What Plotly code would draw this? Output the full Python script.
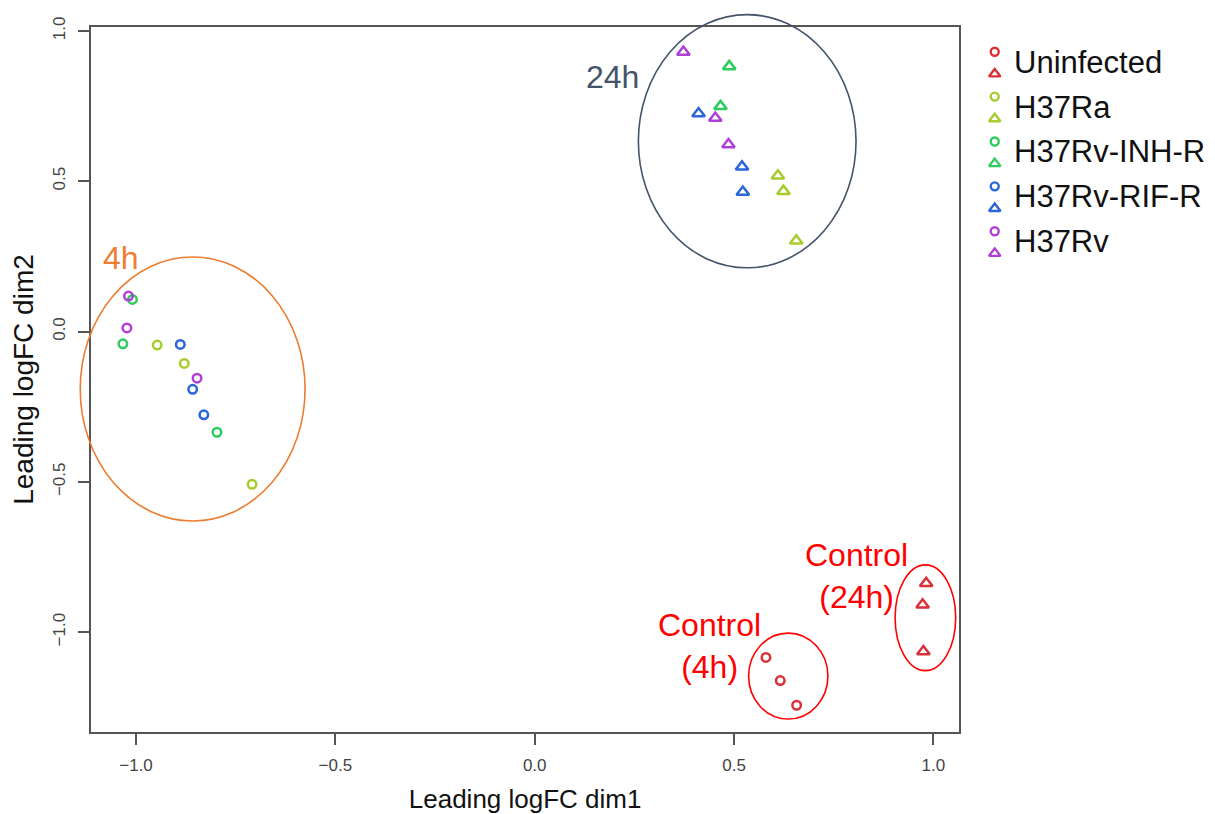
import plotly.graph_objects as go

# ---------------- data ----------------
groups = ["Uninfected", "H37Ra", "H37Rv-INH-R", "H37Rv-RIF-R", "H37Rv"]
colors = ["#D9303A", "#A6CC2E", "#2ECC5C", "#2A66D8", "#B03FD8"]

# 4h samples (circles)
x_4h = {
    "Uninfected": [0.580, 0.616, 0.657],
    "H37Ra": [-0.947, -0.879, -0.709],
    "H37Rv-INH-R": [-1.009, -1.033, -0.797],
    "H37Rv-RIF-R": [-0.889, -0.858, -0.830],
    "H37Rv": [-1.019, -1.023, -0.847],
}
y_4h = {
    "Uninfected": [-1.084, -1.161, -1.243],
    "H37Ra": [-0.045, -0.106, -0.508],
    "H37Rv-INH-R": [0.107, -0.041, -0.335],
    "H37Rv-RIF-R": [-0.043, -0.192, -0.277],
    "H37Rv": [0.118, 0.012, -0.155],
}
# 24h samples (triangles)
x_24h = {
    "Uninfected": [0.982, 0.973, 0.975],
    "H37Ra": [0.610, 0.624, 0.656],
    "H37Rv-INH-R": [0.488, 0.466],
    "H37Rv-RIF-R": [0.411, 0.520, 0.522],
    "H37Rv": [0.373, 0.453, 0.486],
}
y_24h = {
    "Uninfected": [-0.837, -0.909, -1.064],
    "H37Ra": [0.518, 0.467, 0.302],
    "H37Rv-INH-R": [0.882, 0.749],
    "H37Rv-RIF-R": [0.725, 0.548, 0.464],
    "H37Rv": [0.930, 0.710, 0.622],
}

tick_vals = [-1.0, -0.5, 0.0, 0.5, 1.0]
tick_text = ["\u22121.0", "\u22120.5", "0.0", "0.5", "1.0"]

# cluster ellipses: (cx, cy, rx, ry, color) in data units
ellipses = [
    (-0.858, -0.191, 0.282, 0.439, "#ED7D31"),
    (0.533, 0.633, 0.273, 0.421, "#44546A"),
    (0.636, -1.146, 0.0995, 0.143, "#FF0000"),
    (0.980, -0.952, 0.076, 0.176, "#FF0000"),
]
# cluster labels: (x, y, text, color)
labels = [
    (-1.037, 0.244, "4h", "#ED7D31"),
    (0.194, 0.846, "24h", "#44546A"),
    (0.806, -0.812, "Control<br>(24h)", "#FF0000"),
    (0.438, -1.045, "Control<br>(4h)", "#FF0000"),
]

# ---------------- layout geometry ----------------
# the page body adds an 8px margin, so the figure is 8px smaller than the window
W, H = 1207, 806
ML, MR, MT, MB = 83, 0, 19, 81.5
XR = [-1.113, 1.065]
YR = [-1.332, 1.013]
XDOM = [0.0, 0.7725]

FONT = "Liberation Sans Narrow, Liberation Sans, Arial, sans-serif"
FONT2 = "Liberation Sans, Arial, sans-serif"


def to_paper_x(v):
    return XDOM[0] + (v - XR[0]) / (XR[1] - XR[0]) * (XDOM[1] - XDOM[0])


def to_paper_y(v):
    return (v - YR[0]) / (YR[1] - YR[0])


fig = go.Figure()

for g, c in zip(groups, colors):
    fig.add_trace(go.Scatter(
        x=x_4h[g], y=y_4h[g], mode="markers", name=g + " 4h",
        marker=dict(symbol="circle-open", size=8.5, color=c, line=dict(width=2.5, color=c)),
        showlegend=False, xaxis="x", yaxis="y",
    ))
    fig.add_trace(go.Scatter(
        x=x_24h[g], y=y_24h[g], mode="markers", name=g + " 24h",
        marker=dict(symbol="triangle-up-open", size=11, color=c, line=dict(width=2.5, color=c)),
        showlegend=False, xaxis="x", yaxis="y",
    ))

# custom legend (circle over triangle)
rows = list(range(len(groups)))
fig.add_trace(go.Scatter(
    x=[27] * len(groups), y=[r - 0.234 for r in rows], mode="markers",
    marker=dict(symbol="circle-open", size=8, color=colors, line=dict(width=2.4, color=colors)),
    showlegend=False, xaxis="x2", yaxis="y2", hoverinfo="skip",
))
fig.add_trace(go.Scatter(
    x=[27] * len(groups), y=[r + 0.26 for r in rows], mode="markers",
    marker=dict(symbol="triangle-up-open", size=10, color=colors, line=dict(width=2.4, color=colors)),
    showlegend=False, xaxis="x2", yaxis="y2", hoverinfo="skip",
))

annotations = []
for r, g in zip(rows, groups):
    annotations.append(dict(
        x=44, y=r, xref="x2", yref="y2", text=g, showarrow=False,
        xanchor="left", yanchor="middle", font=dict(family=FONT2, size=31, color="#111111"),
    ))
for lx, ly, t, c in labels:
    annotations.append(dict(
        x=lx, y=ly, xref="x", yref="y", text=t, showarrow=False,
        xanchor="center", yanchor="middle", font=dict(family=FONT2, size=32, color=c),
    ))

shapes = []
for cx, cy, rx, ry, c in ellipses:
    shapes.append(dict(
        type="circle", xref="paper", yref="paper",
        x0=to_paper_x(cx - rx), x1=to_paper_x(cx + rx),
        y0=to_paper_y(cy - ry), y1=to_paper_y(cy + ry),
        line=dict(color=c, width=1.6), layer="above",
    ))

axis_common = dict(
    showline=True, linecolor="#555555", linewidth=1.6, mirror=True,
    ticks="outside", ticklen=11, tickwidth=1.5, tickcolor="#555555",
    showgrid=False, zeroline=False, automargin=False,
    tickfont=dict(family=FONT, size=17, color="#444444"),
)

fig.update_layout(
    width=W, height=H,
    margin=dict(l=ML, r=MR, t=MT, b=MB),
    plot_bgcolor="white", paper_bgcolor="white",
    xaxis=dict(domain=XDOM, range=XR, tickvals=tick_vals, ticktext=tick_text,
               ticklabelstandoff=6,
               title=dict(text="Leading logFC dim1", standoff=17,
                          font=dict(family=FONT, size=26, color="#111111")),
               **axis_common),
    yaxis=dict(range=YR, tickvals=tick_vals, ticktext=tick_text, tickangle=-90,
               ticklabelstandoff=6,
               title=dict(text="Leading logFC dim2", standoff=12,
                          font=dict(family=FONT, size=28, color="#111111")),
               **axis_common),
    xaxis2=dict(domain=[0.78, 1.0], range=[0, 247.3], visible=False, anchor="y2"),
    yaxis2=dict(domain=[0.0, 1.0], range=[14.93, -0.786], visible=False, anchor="x2"),
    annotations=annotations,
    shapes=shapes,
    showlegend=False,
)

fig.write_html("out.html")
